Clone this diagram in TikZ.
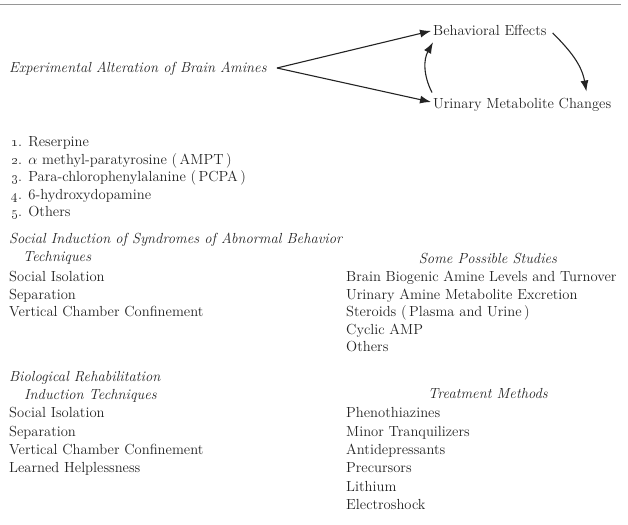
\documentclass[tikz,border=0pt]{standalone}
\usetikzlibrary{arrows.meta}
\definecolor{ink}{RGB}{35,35,35}
\definecolor{rulecol}{RGB}{150,150,150}
\begin{document}
\begin{tikzpicture}[x=1pt,y=-1pt,
  txt/.style={anchor=base west,inner sep=1pt,text=ink,font=\fontsize{14.6}{18}\selectfont},
  ctxt/.style={anchor=base,inner sep=1pt,text=ink,font=\fontsize{14.6}{18}\selectfont\itshape},
  itxt/.style={txt,font=\fontsize{14.6}{18}\selectfont\itshape},
  arr/.style={draw=ink,line width=1.1pt,-{Latex[length=11pt,width=8pt]}}]
\useasboundingbox (0,0) rectangle (628,524);
\draw[rulecol,line width=0.8pt] (0,4.5) -- (621,4.5);
% top diagram
\node[itxt] (exp) at (8,73) {Experimental Alteration of Brain Amines};
\node[txt] (beh) at (432,36) {Behavioral Effects};
\node[txt] (uri) at (432,108) {Urinary Metabolite Changes};
\coordinate (split) at (277,68);
\draw[arr] (split) -- ([xshift=-1pt]beh.west);
\draw[arr] (split) -- ([xshift=-1pt,yshift=6pt]uri.base west);
\draw[arr] ([xshift=0pt,yshift=4pt]uri.north west) to[bend left=28] ([xshift=1pt,yshift=-5pt]beh.south west);
\draw[arr] ([xshift=5pt,yshift=-2pt]beh.east) to[out=-45,in=100] ([xshift=-26pt,yshift=5pt]uri.north east);
% list
\node[txt] (l1) at (10,146.5) {\oldstylenums{1}. Reserpine};
\node[txt] (l2) at (10,164.1) {\oldstylenums{2}. $\alpha$ methyl-paratyrosine (\,AMPT\,)};
\node[txt] (l3) at (10,181.7) {\oldstylenums{3}. Para-chlorophenylalanine (\,PCPA\,)};
\node[txt] (l4) at (10,199.3) {\oldstylenums{4}. 6-hydroxydopamine};
\node[txt] (l5) at (10,216.9) {\oldstylenums{5}. Others};
% social induction
\node[itxt] (si) at (8,243.5) {Social Induction of Syndromes of Abnormal Behavior};
\node[itxt] (tech) at (22,261.5) {Techniques};
\node[txt] (s1) at (8,281.5) {Social Isolation};
\node[txt] (s2) at (8,299) {Separation};
\node[txt] (s3) at (8,316.5) {Vertical Chamber Confinement};
\node[ctxt] (sps) at (488,263) {Some Possible Studies};
\node[txt] (p1) at (345,281.5) {Brain Biogenic Amine Levels and Turnover};
\node[txt] (p2) at (345,299) {Urinary Amine Metabolite Excretion};
\node[txt] (p3) at (345,316.5) {Steroids (\,Plasma and Urine\,)};
\node[txt] (p4) at (345,334) {Cyclic AMP};
\node[txt] (p5) at (345,351.5) {Others};
% biological rehabilitation
\node[itxt] (br) at (8,381.5) {Biological Rehabilitation};
\node[itxt] (ind) at (23,399.5) {Induction Techniques};
\node[txt] (b1) at (8,417.5) {Social Isolation};
\node[txt] (b2) at (8,436) {Separation};
\node[txt] (b3) at (8,454.5) {Vertical Chamber Confinement};
\node[txt] (b4) at (8,472.5) {Learned Helplessness};
\node[ctxt] (tm) at (488,398) {Treatment Methods};
\node[txt] (t1) at (345,417.5) {Phenothiazines};
\node[txt] (t2) at (345,436) {Minor Tranquilizers};
\node[txt] (t3) at (345,454.5) {Antidepressants};
\node[txt] (t4) at (345,472.5) {Precursors};
\node[txt] (t5) at (345,491) {Lithium};
\node[txt] (t6) at (345,509.5) {Electroshock};
\end{tikzpicture}
\end{document}
